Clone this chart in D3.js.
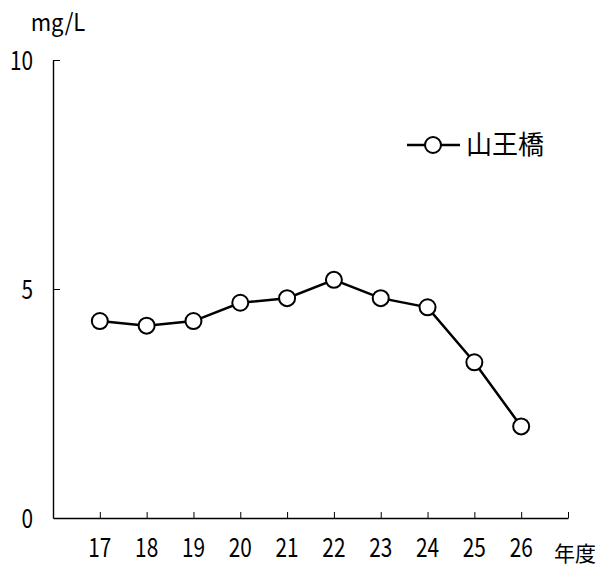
<!DOCTYPE html>
<html>
<head>
<meta charset="utf-8">
<script src="https://cdn.jsdelivr.net/npm/d3@7"></script>
<style>
  body { margin: 0; background: #fff; }
  text { font-family: "Noto Sans CJK JP", sans-serif; fill: #000; }
</style>
</head>
<body>
<svg id="chart" width="604" height="568"></svg>
<script>
// 年度 (fiscal years) and annual values at 山王橋
const years = [17, 18, 19, 20, 21, 22, 23, 24, 25, 26];
const values = [4.3, 4.2, 4.3, 4.7, 4.8, 5.2, 4.8, 4.6, 3.4, 2.0];
const yTicks = [0, 5, 10];
const seriesName = "山王橋";
const unitLabel = "mg/L";
const xTitle = "年度";

const svg = d3.select("#chart");

const x = d3.scaleLinear().domain([16, 27]).range([53, 568]);
const y = d3.scaleLinear().domain([0, 10]).range([518, 60]);

// narrow half-width look for numerals
const narrow = (sel, sx) => sel.attr("transform", function () {
  const tx = +this.getAttribute("data-x"), ty = +this.getAttribute("data-y");
  return `translate(${tx},${ty}) scale(${sx},1)`;
});

// x axis: ticks point up into the plot, one extra tick closes the axis
const xAxis = d3.axisTop(x)
  .tickValues(years.concat([27]))
  .tickSize(6)
  .tickSizeOuter(0)
  .tickFormat("");
const gx = svg.append("g").attr("transform", `translate(0,${y(0)})`).call(xAxis);
gx.select(".domain").attr("stroke", "#000").attr("stroke-width", 1.4);
gx.selectAll(".tick line").attr("stroke", "#000").attr("stroke-width", 1);

svg.append("g").selectAll("text").data(years).join("text")
  .attr("data-x", d => x(d))
  .attr("data-y", y(0) + 39)
  .attr("text-anchor", "middle")
  .attr("font-size", 26)
  .text(d => d)
  .call(narrow, 0.8);

svg.append("text")
  .attr("x", 575).attr("y", 561)
  .attr("text-anchor", "middle")
  .attr("font-size", 21)
  .text(xTitle);

// y axis: ticks point right into the plot
const yAxis = d3.axisRight(y)
  .tickValues(yTicks.filter(d => d > 0))
  .tickSize(7)
  .tickSizeOuter(0)
  .tickFormat("");
const gy = svg.append("g").attr("transform", `translate(${x(16)},0)`).call(yAxis);
gy.select(".domain").attr("stroke", "#000").attr("stroke-width", 1.4);
gy.selectAll(".tick line").attr("stroke", "#000").attr("stroke-width", 1);

svg.append("g").selectAll("text").data(yTicks).join("text")
  .attr("data-x", 33)
  .attr("data-y", d => y(d) + 9.5)
  .attr("text-anchor", "end")
  .attr("font-size", 26)
  .text(d => d)
  .call(narrow, 0.8);

svg.append("text")
  .attr("data-x", 58).attr("data-y", 31)
  .attr("text-anchor", "middle")
  .attr("font-size", 24)
  .text(unitLabel)
  .call(narrow, 0.92);

// series line and markers
const line = d3.line().x((d, i) => x(years[i])).y(d => y(d));
svg.append("path").datum(values)
  .attr("d", line)
  .attr("fill", "none")
  .attr("stroke", "#000")
  .attr("stroke-width", 2.5);

svg.append("g").selectAll("circle").data(values).join("circle")
  .attr("cx", (d, i) => x(years[i]))
  .attr("cy", d => y(d))
  .attr("r", 8)
  .attr("fill", "#fff")
  .attr("stroke", "#000")
  .attr("stroke-width", 2);

// legend
const lg = svg.append("g").attr("transform", "translate(407,145)");
lg.append("line").attr("x1", 0).attr("x2", 53).attr("y1", 0).attr("y2", 0)
  .attr("stroke", "#000").attr("stroke-width", 2.5);
lg.append("circle").attr("cx", 26).attr("cy", 0).attr("r", 8)
  .attr("fill", "#fff").attr("stroke", "#000").attr("stroke-width", 2);
lg.append("text")
  .attr("x", 59).attr("y", 9)
  .attr("font-size", 26)
  .text(seriesName);
</script>
</body>
</html>
